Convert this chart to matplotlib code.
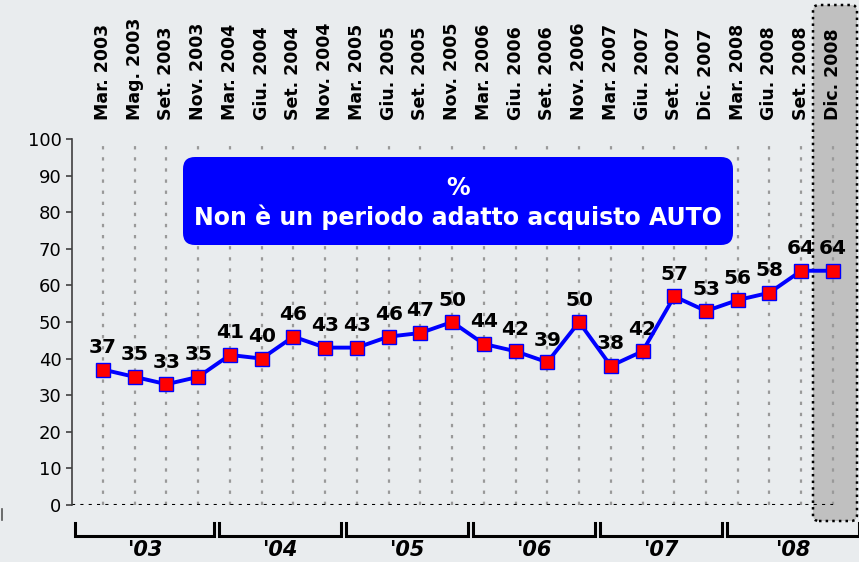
import matplotlib.pyplot as plt
from matplotlib.lines import Line2D
from matplotlib.patches import FancyBboxPatch
from matplotlib.transforms import IdentityTransform

# dati
mesi = ["Mar. 2003", "Mag. 2003", "Set. 2003", "Nov. 2003",
        "Mar. 2004", "Giu. 2004", "Set. 2004", "Nov. 2004",
        "Mar. 2005", "Giu. 2005", "Set. 2005", "Nov. 2005",
        "Mar. 2006", "Giu. 2006", "Set. 2006", "Nov. 2006",
        "Mar. 2007", "Giu. 2007", "Set. 2007", "Dic. 2007",
        "Mar. 2008", "Giu. 2008", "Set. 2008", "Dic. 2008"]
valori = [37, 35, 33, 35, 41, 40, 46, 43, 43, 46, 47, 50,
          44, 42, 39, 50, 38, 42, 57, 53, 56, 58, 64, 64]
anni = ["'03", "'04", "'05", "'06", "'07", "'08"]
mesi_per_anno = [4, 4, 4, 4, 4, 4]
titolo = "%\nNon è un periodo adatto acquisto AUTO"

BG = "#e9ecee"
W, H = 859, 562

fig = plt.figure(figsize=(W / 100, H / 100), dpi=100, facecolor=BG)
ax = fig.add_axes([72 / W, (H - 505) / H, (W - 72) / W, (505 - 139) / H])
ax.set_facecolor("none")

x = list(range(len(valori)))
xmin, xmax = -0.977, 23.82
ax.set_xlim(xmin, xmax)
ax.set_ylim(0, 100)

# box grigio sull'ultimo periodo
box = FancyBboxPatch((813, H - 521), 44, 516, boxstyle="round,pad=0,rounding_size=6",
                     transform=IdentityTransform(), facecolor="#c0c0c0",
                     edgecolor="black", linestyle=":", linewidth=1.8, zorder=-1)
fig.patches.append(box)
# piccolo segno sul bordo sinistro
fig.add_artist(Line2D([1.5, 1.5], [H - 520, H - 509], transform=IdentityTransform(),
                      color="#555555", linewidth=1.2))

# griglia verticale e linea dello zero
ax.set_xticks(x)
ax.set_xticklabels(mesi, rotation=90, fontsize=12.5, fontweight="bold")
ax.xaxis.tick_top()
ax.tick_params(axis="x", length=0, pad=14)
ax.grid(axis="x", color="#999999", linestyle=(0, (1.5, 3.5)), linewidth=1.6)
ax.hlines(0, xmin, x[-1], colors="black", linestyles=(0, (1.5, 2.5)), linewidth=1.5)

ax.set_yticks(range(0, 101, 10))
ax.tick_params(axis="y", labelsize=13, length=4, color="#404040", width=1.2)
for s in ["top", "right", "bottom"]:
    ax.spines[s].set_visible(False)
ax.spines["left"].set_color("#404040")
ax.spines["left"].set_linewidth(1.2)

ax.plot(x, valori, color="#0000ff", linewidth=2.8, marker="s", markersize=9.5,
        markerfacecolor="#ff0000", markeredgecolor="#0000ff", markeredgewidth=1, zorder=5)
for xi, v in zip(x, valori):
    ax.annotate(str(v), (xi, v), xytext=(0, 9), textcoords="offset points",
                ha="center", va="bottom", fontsize=14.5, fontweight="bold")

# parentesi degli anni
start = 0
for g, (anno, n) in enumerate(zip(anni, mesi_per_anno)):
    first, last = start, start + n - 1
    x0 = xmin + 0.1 if g == 0 else first - 0.34
    x1 = xmax if g == len(anni) - 1 else last + 0.5
    ax.plot([x0, x0, x1, x1], [-4.9, -8.4, -8.4, -4.9], color="black",
            linewidth=2.2, clip_on=False, solid_joinstyle="miter")
    ax.text((x0 + x1) / 2, -12.4, anno, ha="center", va="center", fontsize=15,
            fontweight="bold", fontstyle="italic", clip_on=False)
    start += n

# riquadro blu del titolo
tbox = FancyBboxPatch((183, H - 245), 550, 88, boxstyle="round,pad=0,rounding_size=12",
                      transform=IdentityTransform(), facecolor="#0000ff",
                      edgecolor="none", zorder=6)
fig.patches.append(tbox)
fig.text(458 / W, 1 - 203 / H, titolo, ha="center", va="center", color="white",
         fontsize=17, fontweight="bold", linespacing=1.2, zorder=7)

fig.savefig("out.png", dpi=100, facecolor=BG)
